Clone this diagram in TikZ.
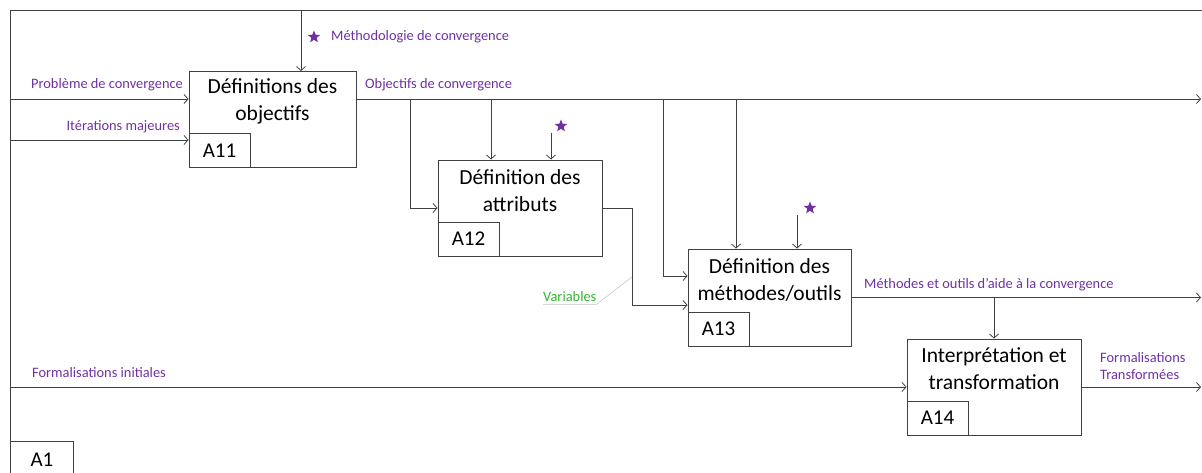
\documentclass[tikz,border=0pt]{standalone}
\usepackage{fontspec}
\setmainfont{Carlito}
\usetikzlibrary{positioning,arrows.meta,shapes.geometric}
\definecolor{idefpurple}{HTML}{7030A0}
\definecolor{idefgreen}{HTML}{33B233}
\definecolor{idefline}{HTML}{404040}

\begin{document}
\begin{tikzpicture}[x=1pt, y=-1pt,
  >={Straight Barb[length=4pt,width=9pt]},
  act/.style={draw=idefline, line width=0.9pt, minimum height=96pt, inner sep=0pt},
  ttl/.style={font=\fontsize{21.5}{27}\selectfont, align=center, inner sep=0pt},
  tag/.style={draw=idefline, line width=0.9pt, minimum width=61pt, minimum height=34pt,
              font=\fontsize{21}{24}\selectfont, inner sep=0pt, anchor=south west},
  lbl/.style={font=\fontsize{14.4}{17}\selectfont, text=idefpurple, inner sep=0pt},
  arr/.style={->, draw=idefline, line width=0.8pt},
  frame/.style={draw=idefline, line width=0.9pt},
  leader/.style={draw=gray!45, line width=0.6pt},
  ctl/.style={star, star points=5, star point ratio=2.3, fill=idefpurple,
              inner sep=0pt, minimum size=13pt},
]
\useasboundingbox (0,0) rectangle (1202,473);

% cadre
\coordinate (tl) at (10,10);
\coordinate (tr) at (1202,10);
\coordinate (bl) at (10,473);
\draw[frame] (tr) -- (tl) -- (bl);
\node[tag, anchor=north west, minimum width=63pt, minimum height=36pt] (a1) at (10,441) {A1};

% activites
\node[act, minimum width=167pt] (a11) at (272.5,119.5) {};
\node[ttl] (a11t) at ([yshift=-30pt]a11.north) {Définitions des\\objectifs};
\node[tag] (a11n) at (a11.south west) {A11};

\node[act, minimum width=164pt] (a12) at (520,208) {};
\node[ttl] (a12t) at ([yshift=-31pt]a12.north) {Définition des\\attributs};
\node[tag] (a12n) at (a12.south west) {A12};

\node[act, minimum width=163pt, minimum height=97pt] (a13) at (769.5,297.5) {};
\node[ttl] (a13t) at ([yshift=-31pt]a13.north) {Définition des\\méthodes/outils};
\node[tag] (a13n) at (a13.south west) {A13};

\node[act, minimum width=174pt] (a14) at (994,387) {};
\node[ttl] (a14t) at ([yshift=-30pt]a14.north) {Interprétation et\\transformation};
\node[tag] (a14n) at (a14.south west) {A14};

% controles
\node[ctl] (s11) at (314,37) {};
\node[ctl] (s12) at (561,126) {};
\node[ctl] (s13) at (810,208) {};
\coordinate (mtop) at (301,10);
\coordinate (c12) at (551,133);
\coordinate (c13) at (797,215);
\draw[arr] (mtop) -- (mtop |- a11.north);
\draw[arr] (c12) -- (c12 |- a12.north);
\draw[arr] (c13) -- (c13 |- a13.north);

% entrees
\coordinate (pin) at (10,99);
\coordinate (iin) at (10,140);
\coordinate (fin) at (10,387);
\draw[arr] (pin) -- (pin -| a11.west);
\draw[arr] (iin) -- (iin -| a11.west);
\draw[arr] (fin) -- (a14.west);

% objectifs
\coordinate (oout) at (1201,99);
\coordinate (b1) at (410,99);
\coordinate (b2) at (491,99);
\coordinate (b3) at (663,99);
\coordinate (b4) at (736,99);
\draw[arr] (a11.east |- pin) -- (oout);
\draw[arr] (b1) |- (a12.west);
\draw[arr] (b2) -- (b2 |- a12.north);
\draw[arr] (b3) |- ([yshift=21.5pt]a13.west);
\draw[arr] (b4) -- (b4 |- a13.north);

% variables
\coordinate (vpt) at (632,277);
\draw[arr] (a12.east) -- ++(30,0) |- ([yshift=-7.5pt]a13.west);

% sorties
\coordinate (mout) at (1201,297.5);
\coordinate (fout) at (1201,387);
\draw[arr] (a13.east) -- (mout);
\draw[arr] (a14.north |- a13.east) -- (a14.north);
\draw[arr] (a14.east) -- (fout);

% etiquettes
\node[lbl, anchor=base east] (lprob) at (183,89) {Problème de convergence};
\node[lbl, anchor=base east] (liter) at (180,131) {Itérations majeures};
\node[lbl, anchor=base west] (lmeth) at (331,41) {Méthodologie de convergence};
\node[lbl, anchor=base west] (lobj) at (365,89) {Objectifs de convergence};
\node[lbl, anchor=base west] (lout) at (864,288) {Méthodes et outils d’aide à la convergence};
\node[lbl, anchor=base west] (lfin) at (32,377) {Formalisations initiales};
\node[lbl, anchor=north west, align=left] (lfout) at (1100,352) {Formalisations\\Transformées};
\node[lbl, text=idefgreen, anchor=base west] (lvar) at (543,301) {Variables};
\draw[leader] ([yshift=-3pt]lvar.south west) -- ([yshift=-3pt]lvar.south east) -- (vpt);
\end{tikzpicture}
\end{document}
